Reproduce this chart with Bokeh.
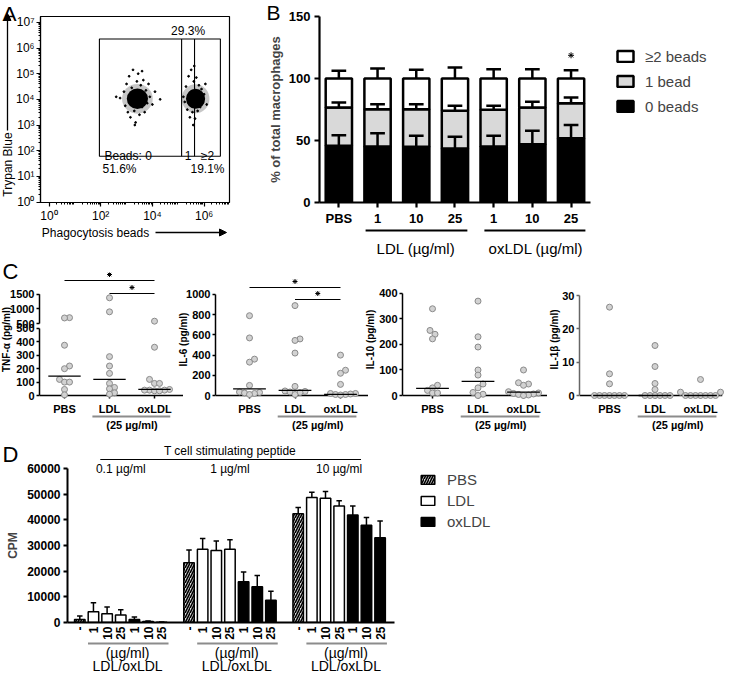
import math
import numpy as np
from bokeh.plotting import figure
from bokeh.layouts import column, row
from bokeh.models import (Label, Arrow, NormalHead, FixedTicker, Legend, LegendItem, Range1d, GridBox)
from bokeh.embed import file_html
from bokeh.resources import INLINE

FONT = "Liberation Sans"

# ---------------- Panel A data (log10 units) ----------------
a_gate_x = [1.95, 5.13, 5.63, 6.63]
a_gate_y = [1.78, 6.35]
a_pct = [51.6, 29.3, 19.1]
a_core_x = [3.42, 5.67]
a_core_y = [4.02, 4.02]
a_core_w = [0.82, 0.74]
a_core_h = [0.80, 0.78]
a_pts_x = [2.75, 2.9, 2.95, 3.0, 3.05, 3.1, 3.15, 3.2, 3.25, 3.3, 3.35, 3.4, 3.45, 3.5, 3.55, 3.6,
           3.65, 3.7, 3.75, 3.8, 3.85, 3.9, 4.0, 4.1, 4.3, 3.32, 3.6, 2.6,
           5.2, 5.3, 5.35, 5.4, 5.45, 5.5, 5.5, 5.55, 5.6, 5.65, 5.7, 5.75, 5.8, 5.85, 5.9, 5.95,
           6.0, 6.05, 6.1, 5.62, 5.58, 5.25]
a_pts_y = [4.05, 4.3, 3.75, 4.6, 3.5, 4.9, 3.3, 4.45, 5.15, 3.55, 3.1, 4.7, 5.0, 3.4, 4.55, 3.7,
           4.75, 3.5, 4.35, 3.85, 4.6, 4.1, 3.8, 4.3, 4.0, 3.0, 5.1, 4.1,
           4.1, 4.5, 3.6, 4.9, 3.3, 5.15, 4.3, 3.5, 4.7, 3.25, 4.85, 3.55, 4.55, 3.7, 4.4, 3.9,
           4.2, 4.6, 3.8, 5.3, 3.0, 3.9]

# ---------------- Panel B data ----------------
b_cats = ["PBS", "1", "10", "25", "1", "10", "25"]
b_groups = ["LDL (\u00b5g/ml)", "oxLDL (\u00b5g/ml)"]
b_zero = [45.7, 45.2, 44.9, 43.5, 45.2, 47.0, 51.9]
b_one = [30.9, 30.1, 30.4, 30.5, 29.5, 29.6, 28.1]
b_zero_err = [8.6, 10.7, 8.9, 9.5, 8.6, 10.8, 10.7]
b_one_err = [4.0, 4.0, 4.0, 4.0, 3.3, 4.6, 4.7]
b_two_err = [6.2, 8.0, 7.0, 8.9, 7.5, 7.5, 6.7]
b_labels = ["\u22652 beads", "1 bead", "0 beads"]
b_sig = [6]

# ---------------- Panel C data (pg/ml) ----------------
c_cats = ["PBS", "LDL", "oxLDL"]
tnf = [[700, 690, 375, 220, 200, 120, 100, 100, 45, 5],
       [1380, 900, 290, 220, 165, 90, 60, 50, 20, 10],
       [580, 360, 120, 90, 90, 45, 40, 40, 35, 35, 40]]
tnf_med = [145, 120, 45]
il6 = [[790, 570, 360, 330, 100, 35, 30, 25, 20, 10],
       [890, 560, 545, 420, 90, 45, 40, 35, 30, 10],
       [400, 250, 220, 110, 20, 20, 15, 10, 10, 5]]
il6_med = [65, 50, 12]
il10 = [[340, 255, 240, 222, 40, 30, 20, 10, 10],
        [370, 230, 190, 100, 80, 45, 30, 12, 5, 0],
        [100, 50, 45, 40, 15, 10, 8, 6, 4, 2, 0]]
il10_med = [28, 55, 13]
il1b = [[26.5, 6.5, 3.5, 0, 0, 0, 0, 0, 0, 0],
        [15, 8.7, 3.6, 1.8, 0, 0, 0, 0, 0, 0],
        [4.8, 1.0, 1.0, 0, 0, 0, 0, 0, 0, 0]]
il1b_med = [0, 0, 0]

# ---------------- Panel D data (CPM) ----------------
d_doses = ["-", "1", "10", "25", "1", "10", "25"]
d_treat = ["PBS", "LDL", "LDL", "LDL", "oxLDL", "oxLDL", "oxLDL"]
d_peptide = ["0.1 \u00b5g/ml", "1 \u00b5g/ml", "10 \u00b5g/ml"]
d_cpm_01 = [1200, 4200, 3400, 2900, 1200, 400, 100]
d_err_01 = [1300, 3500, 2600, 2100, 900, 200, 100]
d_cpm_1 = [23300, 28500, 28100, 28500, 15900, 13900, 8700]
d_err_1 = [4900, 4200, 3700, 3700, 3800, 4400, 3500]
d_cpm_10 = [42400, 48700, 48400, 45400, 41900, 37900, 33000]
d_err_10 = [2400, 2000, 2600, 2000, 3500, 3000, 6500]


# ---------------- helpers ----------------
def make_fig(w, h, xr, yr, left, right, top, bottom):
    p = figure(width=w, height=h, x_range=Range1d(*xr), y_range=Range1d(*yr),
               output_backend="svg", toolbar_location=None, title=None,
               min_border_left=left, min_border_right=right,
               min_border_top=top, min_border_bottom=bottom)
    p.xgrid.visible = False
    p.ygrid.visible = False
    p.outline_line_color = None
    p.background_fill_color = "white"
    p.border_fill_color = "white"
    return p


def lab(p, x, y, text, size=12, bold=False, align="center", baseline="middle", angle=0.0, color="black"):
    p.add_layout(Label(x=x, y=y, text=text, text_font=FONT, text_font_size=f"{size}px",
                       text_font_style="bold" if bold else "normal", text_align=align,
                       text_baseline=baseline, angle=angle, text_color=color))


def style_axis(ax, size, bold, lw=1.5, tick_out=4, color="black"):
    ax.axis_line_width = lw
    ax.axis_line_color = color
    ax.major_tick_line_width = lw
    ax.major_tick_line_color = color
    ax.major_tick_out = tick_out
    ax.major_tick_in = 0
    ax.minor_tick_in = 0
    ax.minor_tick_out = 0
    ax.major_label_text_font = FONT
    ax.major_label_text_font_size = f"{size}px"
    ax.major_label_text_font_style = "bold" if bold else "normal"
    ax.major_label_text_color = "black"


def swarm_offsets(ypx, d):
    n = len(ypx)
    order = sorted(range(n), key=lambda i: ypx[i])
    placed = []
    offs = [0.0] * n
    for i in order:
        k = 0
        while True:
            m = (k + 1) // 2
            cand = 0.0 if k == 0 else m * d * 0.5 * (1 if k % 2 == 1 else -1)
            if all((cand - px) ** 2 + (ypx[i] - py) ** 2 >= d * d * 0.999 for px, py in placed):
                break
            k += 1
        offs[i] = cand
        placed.append((cand, ypx[i]))
    return offs


def legend_in_frame(p, items, loc, spacing, gw, gh, lh, standoff):
    leg = Legend(items=[LegendItem(label=t, renderers=[r]) for t, r in items],
                 location=loc, orientation="vertical", padding=0, margin=0, spacing=spacing,
                 glyph_width=gw, glyph_height=gh, label_height=lh, label_standoff=standoff,
                 label_text_font=FONT, label_text_font_size="15px",
                 background_fill_alpha=0, border_line_color=None)
    p.add_layout(leg)


# ---------------- overlay (page-pixel decorations outside the plot frames) ----------------
ov = figure(width=724, height=672, x_range=Range1d(0, 724), y_range=Range1d(672, 0),
            x_axis_type=None, y_axis_type=None, output_backend="svg", toolbar_location=None,
            title=None, min_border=0, min_border_left=0, min_border_right=0,
            min_border_top=0, min_border_bottom=0)
ov.background_fill_color = None
ov.border_fill_color = None
ov.outline_line_color = None


def olab(x, y, text, size=12, bold=False, angle=0.0, align="center"):
    lab(ov, x - 8, y - 8, text, size, bold, align=align, angle=angle)


def oline(x0, y0, x1, y1, color="black", width=1.5):
    ov.segment(x0=[x0 - 8], y0=[y0 - 8], x1=[x1 - 8], y1=[y1 - 8], line_color=color, line_width=width)


def oarrow(x0, y0, x1, y1):
    ov.add_layout(Arrow(x_start=x0 - 8, y_start=y0 - 8, x_end=x1 - 8, y_end=y1 - 8, line_width=1.3,
                        end=NormalHead(size=7, fill_color="black", line_color="black")))


# ================= Panel A =================
def Ax(px): return (px - 56.5) / 25.85
def Ay(py): return (210.5 - py) / 25.8

pa = make_fig(242, 257, (Ax(48), Ax(237)), (Ay(211), Ay(24)), 40, 13, 16, 54)
pa.outline_line_color = "black"
pa.outline_line_width = 1.2
minor = [n + math.log10(k) for n in range(0, 8) for k in range(2, 10)]
pa.xaxis.ticker = FixedTicker(ticks=[0, 2, 4, 6], minor_ticks=[m for m in minor if m < 7])
pa.xaxis.major_label_overrides = {0: "10\u2070", 2: "10\u00b2", 4: "10\u2074", 6: "10\u2076"}
sup = ["\u2070", "\u00b9", "\u00b2", "\u00b3", "\u2074", "\u2075", "\u2076", "\u2077"]
pa.yaxis.ticker = FixedTicker(ticks=list(range(8)), minor_ticks=[m for m in minor if m < 7.2])
pa.yaxis.major_label_overrides = {i: "10" + sup[i] for i in range(8)}
for ax in (pa.xaxis[0], pa.yaxis[0]):
    style_axis(ax, 12, False, lw=1.2, tick_out=4)
    ax.minor_tick_out = 2
    ax.minor_tick_line_width = 1
    ax.major_label_standoff = 2

pa.ellipse(x=a_core_x, y=a_core_y, width=[w * 1.45 for w in a_core_w], height=[h * 1.45 for h in a_core_h],
           fill_color="black", fill_alpha=0.22, line_color=None)
pa.ellipse(x=a_core_x, y=a_core_y, width=a_core_w, height=a_core_h, fill_color="black", line_color=None)
pa.scatter(a_pts_x, a_pts_y, size=1.8, marker="circle", color="black")
pa.quad(left=[a_gate_x[0]], right=[a_gate_x[3]], bottom=[a_gate_y[0]], top=[a_gate_y[1]],
        fill_color=None, line_color="black", line_width=1.1)
pa.segment(x0=a_gate_x[1:3], y0=[a_gate_y[0]] * 2, x1=a_gate_x[1:3], y1=[a_gate_y[1]] * 2,
           line_color="black", line_width=1.1)
lab(pa, Ax(112), Ay(164), "Beads: 0", 12, align="left", baseline="alphabetic")
lab(pa, (a_gate_x[1] + a_gate_x[2]) / 2, Ay(164), "1", 12, baseline="alphabetic")
lab(pa, (a_gate_x[2] + a_gate_x[3]) / 2, Ay(164), "\u22652", 12, baseline="alphabetic")
lab(pa, (a_gate_x[1] + a_gate_x[2]) / 2, Ay(39), f"{a_pct[1]}%", 12)
lab(pa, Ax(127), Ay(177), f"{a_pct[0]}%", 12)
lab(pa, Ax(215), Ay(177), f"{a_pct[2]}%", 12)

olab(17, 21, "A", 21)
olab(15, 172, "Trypan Blue", 12, angle=math.pi / 2)
oarrow(15, 138, 15, 21)
olab(103, 240, "Phagocytosis beads", 12)
oarrow(163, 240, 234, 240)

# ================= Panel B =================
def Bpx(x): return 346 + x * 38.7

# frame extends right to hold the legend; x axis limited to the bar region by bounds
pb = make_fig(482, 257, (-0.5, -0.5 + 403 / 38.7), (0, 150), 77, 2, 16, 55)
xs = np.arange(7)
z = np.array(b_zero)
o = np.array(b_one)
r0 = pb.vbar(x=xs, bottom=0, top=z, width=0.68, fill_color="black", line_color="black", line_width=2.5)
r1 = pb.vbar(x=xs, bottom=z, top=z + o, width=0.68, fill_color="#d9d9d9", line_color="black", line_width=2.5)
r2 = pb.vbar(x=xs, bottom=z + o, top=100, width=0.68, fill_color="white", line_color="black", line_width=2.5)
for tops, errs in ((z, b_zero_err), (z + o, b_one_err), (np.full(7, 100.0), b_two_err)):
    ends = tops + np.array(errs)
    pb.segment(x0=xs, y0=tops, x1=xs, y1=ends, line_color="black", line_width=2.5)
    pb.segment(x0=xs - 0.19, y0=ends, x1=xs + 0.19, y1=ends, line_color="black", line_width=2.5)
pb.scatter(x=b_sig, y=[100 + b_two_err[i] + 12 for i in b_sig], marker="asterisk", size=6,
           line_color="black", line_width=1)
pb.xaxis.ticker = FixedTicker(ticks=list(range(7)))
pb.xaxis.major_label_overrides = {i: c for i, c in enumerate(b_cats)}
pb.xaxis.bounds = (-0.5, 6.5)
pb.yaxis.ticker = FixedTicker(ticks=[0, 50, 100, 150])
style_axis(pb.xaxis[0], 13, True, lw=2.2, tick_out=5)
style_axis(pb.yaxis[0], 13, True, lw=2.2, tick_out=5)
pb.xaxis.major_label_standoff = 3
pb.yaxis.major_label_standoff = 4
pb.yaxis.axis_label = "% of total macrophages"
pb.yaxis.axis_label_text_font = FONT
pb.yaxis.axis_label_text_font_size = "13px"
pb.yaxis.axis_label_text_font_style = "bold"
pb.yaxis.axis_label_standoff = 3
legend_in_frame(pb, [(b_labels[0], r2), (b_labels[1], r1), (b_labels[2], r0)],
                (296, 87), 7, 20, 14, 18, 10)

olab(281, 20, "B", 21)
oline(Bpx(0.70), 238, Bpx(3.33), 238, width=2)
oline(Bpx(3.77), 238, Bpx(6.38), 238, width=2)
olab(Bpx(2.0), 256, b_groups[0], 15)
olab(Bpx(5.1), 256, b_groups[1], 15)


# ================= Panel C =================
def dot_panel(fig_w, left, right, cat0, step, fl, fr, upp, groups, meds, ticks, tlabels,
              ytitle, ytitle_px, disp=None, ax_color="black", sig=(), broken=None):
    if disp is None:
        disp = lambda v: v
    X = lambda px: (px - cat0) / step
    Y = lambda py: (403 - py) * upp
    # frame runs down to include the category labels; the x axis sits at zero
    p = make_fig(fig_w, 176, (X(fl), X(fr)), (Y(421), Y(280)), left, right, 15, 20)
    xs_, ys_ = [], []
    for gi, vals in enumerate(groups):
        dv = [disp(v) for v in vals]
        offs = swarm_offsets([v / upp for v in dv], 5.0)
        xs_ += [gi + of / step for of in offs]
        ys_ += dv
    md = [disp(m) for m in meds]
    p.scatter(xs_, ys_, size=6, marker="circle", fill_color="#d2d2d2", line_color="#8a8a8a",
              line_width=1, level="overlay")
    p.segment(x0=[i - 0.36 for i in range(3)], y0=md, x1=[i + 0.36 for i in range(3)], y1=md,
              line_color="black", line_width=1.3, level="overlay")
    for (a, b, ypx, sx) in sig:
        p.segment(x0=[a], y0=[Y(ypx)], x1=[b], y1=[Y(ypx)], line_color="black", line_width=1.2)
        p.scatter(x=[sx], y=[Y(ypx - 6)], marker="asterisk", size=5, line_color="black", line_width=1)
    p.xaxis.fixed_location = 0
    p.xaxis.ticker = FixedTicker(ticks=[0, 1, 2])
    p.xaxis.major_label_overrides = {i: c for i, c in enumerate(c_cats)}
    style_axis(p.xaxis[0], 11, True, lw=1.5, tick_out=3)
    p.xaxis.major_label_standoff = 4
    p.yaxis.ticker = FixedTicker(ticks=ticks)
    p.yaxis.major_label_overrides = {t: l for t, l in zip(ticks, tlabels)}
    style_axis(p.yaxis[0], 11, True, lw=1.5, tick_out=3, color=ax_color)
    p.yaxis.major_label_standoff = 2
    if broken:
        p.yaxis.axis_line_color = None
        for (y0, y1) in broken:
            oline(fl, 403 - y0 / upp, fl, 403 - y1 / upp, color=ax_color, width=1.5)
    else:
        p.yaxis.bounds = (0, ticks[-1])
    oline(cat0 + 0.62 * step, 424, cat0 + 2.35 * step, 424, color="#8c8c8c", width=2)
    olab(cat0 + 1.5 * step, 432, "(25 \u00b5g/ml)", 11, bold=True)
    olab(ytitle_px, 347, ytitle, 10, bold=True, angle=math.pi / 2)
    return p


def tnf_disp(v):
    return v if v <= 500 else 537 + (v - 500) * 0.218


c1 = dot_panel(183, 39, 0, 72, 45, 47, 191, 7.46, tnf, tnf_med,
               [0, 100, 200, 300, 400, 500, 537, 646, 755],
               ["0", "100", "200", "300", "400", "500", "500", "1000", "1500"],
               "TNF-\u03b1 (pg/ml)", 13.5, disp=tnf_disp,
               sig=[(0, 2, 288, 1.0), (1, 2, 301, 1.5)], broken=[(0, 500), (537, 755)])
c2 = dot_panel(185, 32, 0, 257, 45.5, 223, 376, 9.9, il6, il6_med,
               [0, 200, 400, 600, 800, 1000], ["0", "200", "400", "600", "800", "1000"],
               "IL-6 (pg/ml)", 191, sig=[(0, 2, 295, 1.0), (1, 2, 307, 1.5)])
c3 = dot_panel(179, 34, 0, 440, 45.5, 410, 555, 3.92, il10, il10_med,
               [0, 100, 200, 300, 400], ["0", "100", "200", "300", "400"],
               "IL-10 (pg/ml)", 378)
c4 = dot_panel(177, 32, 2, 617, 45.5, 587, 730, 0.3, il1b, il1b_med,
               [0, 10, 20, 30], ["0", "10", "20", "30"],
               "IL-1\u03b2 (pg/ml)", 562, ax_color="#666666")
olab(18, 279, "C", 22)


# ================= Panel D =================
def Dx(px): return (px - 87.3) / 13.65
def Dpx(x): return 87.3 + x * 13.65

pdd = make_fig(724, 239, (Dx(75), Dx(75) + 655 / 13.65), (0, 60000), 67, 2, 35, 50)
slots = [g * 8 + i for g in range(3) for i in range(7)]
tops = d_cpm_01 + d_cpm_1 + d_cpm_10
errs = d_err_01 + d_err_1 + d_err_10
treat = d_treat * 3
styles = {"PBS": dict(fill_color="#d9d9d9", hatch_pattern="/", hatch_color="black", hatch_scale=5, hatch_weight=1.6),
          "LDL": dict(fill_color="white"),
          "oxLDL": dict(fill_color="black")}
rend = {}
for t in ["PBS", "LDL", "oxLDL"]:
    idx = [k for k in range(21) if treat[k] == t]
    rend[t] = pdd.vbar(x=[slots[k] for k in idx], top=[tops[k] for k in idx], bottom=0, width=0.77,
                       line_color="black", line_width=1.5, **styles[t])
sx = np.array(slots, dtype=float)
ty = np.array(tops, dtype=float)
ey = ty + np.array(errs, dtype=float)
pdd.segment(x0=sx, y0=ty, x1=sx, y1=ey, line_color="black", line_width=1.5)
pdd.segment(x0=sx - 0.2, y0=ey, x1=sx + 0.2, y1=ey, line_color="black", line_width=1.5)
pdd.xaxis.ticker = FixedTicker(ticks=slots)
pdd.xaxis.major_label_overrides = {s: d_doses[k % 7] for k, s in enumerate(slots)}
pdd.xaxis.major_label_orientation = math.pi / 2
pdd.xaxis.bounds = (Dx(75), Dx(402))
style_axis(pdd.xaxis[0], 12, True, lw=2, tick_out=0)
pdd.xaxis.major_label_standoff = 4
pdd.yaxis.ticker = FixedTicker(ticks=list(range(0, 60001, 10000)))
style_axis(pdd.yaxis[0], 12, True, lw=2, tick_out=4)
pdd.yaxis.major_label_standoff = 3
pdd.yaxis.axis_label = "CPM"
pdd.yaxis.axis_label_text_font = FONT
pdd.yaxis.axis_label_text_font_size = "12px"
pdd.yaxis.axis_label_text_font_style = "bold"
pdd.yaxis.axis_label_standoff = 4
legend_in_frame(pdd, [("PBS", rend["PBS"]), ("LDL", rend["LDL"]), ("oxLDL", rend["oxLDL"])],
                (352, 92), 4, 17, 11, 17, 11)

olab(18, 462, "D", 22)
olab(Dpx(11), 458, "T cell stimulating peptide", 12)
oline(Dpx(1.5), 467, Dpx(20.6), 467, width=1.2)
for g in range(3):
    olab(Dpx(g * 8 + 3), 476, d_peptide[g], 12)
    oline(Dpx(g * 8 + 0.6), 651, Dpx(g * 8 + 6.5), 651, color="#8c8c8c", width=2)
    olab(Dpx(g * 8 + 3.5), 660, "(\u00b5g/ml)", 14)
    olab(Dpx(g * 8 + 3.5), 673, "LDL/oxLDL", 14)

main = column(row(pa, pb), row(c1, c2, c3, c4), pdd)
page = GridBox(children=[(main, 0, 0), (ov, 0, 0)])
open("out.html", "w").write(file_html(page, INLINE))
